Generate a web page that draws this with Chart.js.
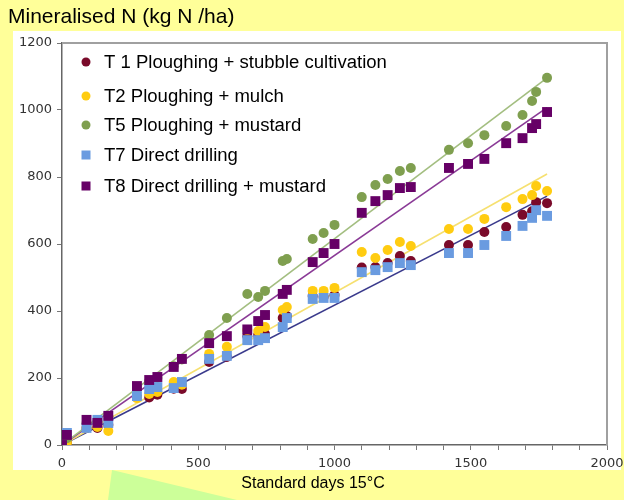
<!DOCTYPE html>
<html>
<head>
<meta charset="utf-8">
<script src="https://cdn.jsdelivr.net/npm/chart.js@4.4.1/dist/chart.umd.min.js"></script>
<style>
  body { margin: 0; background: #ffff99; }
  #wrap { position: relative; width: 624px; height: 500px; overflow: hidden; }
  #wrap canvas { position: absolute; left: 0; top: 0; }
  .txt { position: absolute; font-family: "Liberation Sans", Arial, sans-serif; color: #000; white-space: nowrap; }
  #title { left: 8px; top: 4px; font-size: 21px; }
  #xtitle { left: 0; width: 626px; text-align: center; top: 474px; font-size: 16px; }
  #deco { position: absolute; left: 0; top: 0; }
</style>
</head>
<body>
<div id="wrap">
  <svg id="deco" width="624" height="500"><polygon points="112,470 237,500 108,500" fill="#ccff99"/></svg>
  <canvas id="chart" width="624" height="500"></canvas>
  <div class="txt" id="title">Mineralised N (kg N /ha)</div>
  <div class="txt" id="xtitle">Standard days 15°C</div>
</div>
<script>
// standard days (x) shared by all treatments
const xDays = [0, 18, 90, 130, 170, 275, 320, 350, 410, 440, 540, 605, 680, 720, 745, 810, 825,
  920, 960, 1000, 1100, 1150, 1195, 1240, 1280, 1420, 1490, 1550, 1630, 1690, 1725, 1740, 1780];

// mineralised N, kg N/ha
const t1 = [0, 6, 51, 51, 60, 143, 142, 150, 168, 167, 248, 263, 325, 328, 331, 379, 385,
  445, 442, 448, 530, 531, 543, 564, 549, 597, 597, 636, 651, 687, 698, 725, 722];
const t2 = [0, 6, 51, 54, 42, 140, 152, 158, 188, 180, 272, 293, 343, 340, 352, 403, 412,
  460, 460, 469, 576, 558, 582, 606, 594, 645, 645, 675, 710, 734, 746, 773, 758];
const t5 = [0, 20, 65, 70, 85, 170, 190, 200, 235, 255, 328, 379, 451, 442, 460, 549, 555,
  615, 633, 657, 740, 776, 794, 818, 827, 881, 901, 925, 952, 985, 1027, 1054, 1096];
const t7 = [0, 36, 51, 75, 66, 146, 167, 173, 170, 188, 257, 266, 313, 313, 319, 352, 379,
  436, 439, 439, 516, 522, 531, 543, 537, 573, 573, 597, 624, 654, 678, 701, 684];
const t8 = [0, 30, 75, 66, 87, 176, 194, 203, 233, 257, 304, 325, 345, 370, 388, 451, 463,
  546, 573, 600, 693, 728, 746, 767, 770, 827, 839, 854, 901, 916, 946, 958, 994];

// trend lines: start and end
const trendX = [0, 1780];
const trendT2 = [0, 809];
const trendT5 = [0, 1096];
const trendT7 = [0, 743];
const trendT8 = [0, 1007];

const labels = ['T 1 Ploughing + stubble cultivation', 'T2 Ploughing + mulch',
  'T5 Ploughing + mustard', 'T7 Direct drilling', 'T8 Direct drilling + mustard'];

const pts = ys => xDays.map((x, i) => ({ x: x, y: ys[i] }));
const line = ys => trendX.map((x, i) => ({ x: x, y: ys[i] }));

const markers = [
  { color: '#7a0a2a', style: 'circle', r: 5 },
  { color: '#ffcc11', style: 'circle', r: 5 },
  { color: '#7f9f4f', style: 'circle', r: 5 },
  { color: '#6a9be0', style: 'rect', r: 7 },
  { color: '#660066', style: 'rect', r: 7 }
];
const series = [t1, t2, t5, t7, t8];

const datasets = series.map((s, i) => ({
  label: labels[i],
  data: pts(s),
  pointStyle: markers[i].style,
  pointRadius: markers[i].r,
  pointBackgroundColor: markers[i].color,
  pointBorderWidth: 0,
  borderColor: markers[i].color,
  showLine: false,
  order: 5 - i
}));

const trends = [
  { d: trendT5, c: '#a3be80' },
  { d: trendT8, c: '#8a3a96' },
  { d: trendT2, c: '#f6e070' },
  { d: trendT7, c: '#3a3a8c' }
];
trends.forEach(t => datasets.push({
  label: '',
  data: line(t.d),
  showLine: true,
  borderColor: t.c,
  borderWidth: 1.6,
  pointRadius: 0,
  order: 10
}));

// white panel behind the chart, frame, legend in the plot area
const panel = {
  id: 'panel',
  beforeDraw(chart) {
    const ctx = chart.ctx;
    ctx.save();
    ctx.fillStyle = '#ffffff';
    ctx.fillRect(13, 31, 608, 439);
    ctx.restore();
  },
  afterDraw(chart) {
    const { ctx, chartArea: a } = chart;
    ctx.save();
    ctx.strokeStyle = '#a0a0a0';
    ctx.lineWidth = 2;
    ctx.beginPath();
    ctx.moveTo(a.left, a.top);
    ctx.lineTo(a.right, a.top);
    ctx.lineTo(a.right, a.bottom);
    ctx.stroke();

    const rowY = [62, 96, 125, 155, 186];
    ctx.font = '18px "Liberation Sans", Arial, sans-serif';
    ctx.textBaseline = 'middle';
    markers.forEach((m, i) => {
      ctx.fillStyle = m.color;
      if (m.style === 'circle') {
        ctx.beginPath();
        ctx.arc(86, rowY[i], 4.5, 0, Math.PI * 2);
        ctx.fill();
      } else {
        ctx.fillRect(81.5, rowY[i] - 4.5, 9, 9);
      }
      ctx.fillStyle = '#000';
      // source text is slightly wide
      ctx.save();
      ctx.translate(104, rowY[i] + 1);
      ctx.scale(1.03, 1);
      ctx.fillText(labels[i], 0, 0);
      ctx.restore();
    });
    ctx.restore();
  }
};

const tickFont = { family: '"DejaVu Sans", Verdana, sans-serif', size: 13 };

// keep the plot box fixed, labels may overhang
const noPad = s => { s.paddingLeft = 0; s.paddingRight = 0; s.paddingTop = 0; s.paddingBottom = 0; };

new Chart(document.getElementById('chart'), {
  type: 'scatter',
  data: { datasets: datasets },
  options: {
    responsive: false,
    animation: false,
    layout: { padding: { left: 0, right: 17, top: 43, bottom: 0 } },
    plugins: { legend: { display: false }, tooltip: { enabled: false } },
    scales: {
      x: {
        type: 'linear', min: 0, max: 2000,
        ticks: {
          stepSize: 100, padding: 6, color: '#333', font: tickFont, maxRotation: 0, autoSkip: false,
          callback: v => (v % 500 === 0 ? String(v) : '')
        },
        grid: { drawOnChartArea: false, drawTicks: true, tickLength: 5, color: '#777' },
        border: { color: '#666', width: 1.5 },
        afterFit: s => { s.height = 55; noPad(s); }
      },
      y: {
        min: 0, max: 1200,
        ticks: { stepSize: 200, padding: 5, color: '#333', font: tickFont, callback: v => String(v) },
        grid: { drawOnChartArea: false, drawTicks: true, tickLength: 5, color: '#777' },
        border: { color: '#666', width: 1.5 },
        afterFit: s => { s.width = 62; noPad(s); }
      }
    }
  },
  plugins: [panel]
});
</script>
</body>
</html>
